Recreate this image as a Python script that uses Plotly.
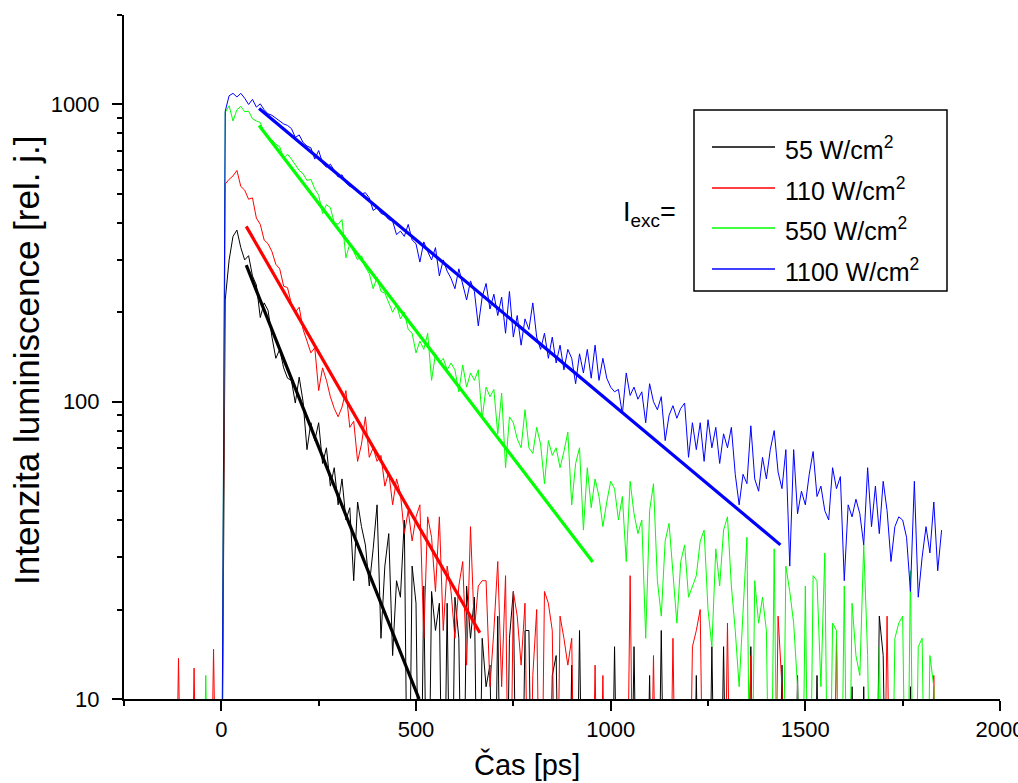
import math
import plotly.graph_objects as go

# ---------------- data ----------------
# time grid of the measured traces [ps]: -200 ... 1850, one value per 10 ps
T_START, T_STEP = -200, 10

NAMES = ["55 W/cm<sup>2</sup>", "110 W/cm<sup>2</sup>", "550 W/cm<sup>2</sup>", "1100 W/cm<sup>2</sup>"]
COLORS = ["#000000", "#ff0000", "#00ff00", "#0000ff"]

# values of 2 lie below the axis (10) and are clipped like in the original
I_55 = [
    2, 2, 2, 2, 2, 2, 2, 2, 2, 2,                 # -200
    2, 2, 2, 2, 2, 2, 2, 2, 2, 2,                 # -100
    2, 220, 300, 360, 378, 330, 300, 310, 265, 247,   # 0
    192, 215, 203, 165, 140, 150, 130, 120, 118, 99,  # 100
    121, 100, 69, 85, 74, 85, 62, 70, 52, 60,     # 200
    45, 55, 40, 44, 25, 46, 38, 33, 24, 32,       # 300
    45, 16, 28, 36, 14, 25, 22, 40, 2, 28,        # 400
    21, 2, 24, 2, 23, 17, 21, 2, 21, 2,           # 500
    22, 16, 2, 24, 16, 22, 2, 16, 11, 13,         # 600
    2, 19, 2, 2, 16, 23, 2, 2, 17, 17,            # 700
    2, 2, 2, 2, 2, 12, 14, 2, 2, 2,               # 800
    13, 2, 17, 2, 2, 2, 2, 2, 2, 2,               # 900
    2, 15, 2, 2, 2, 2, 15, 2, 2, 2,               # 1000
    12, 2, 2, 17, 2, 2, 2, 2, 2, 2,               # 1100
    2, 2, 12, 2, 2, 2, 15, 2, 2, 15,              # 1200
    2, 2, 2, 2, 2, 2, 15, 2, 2, 2,                # 1300
    2, 2, 2, 2, 13, 2, 2, 2, 12, 2,               # 1400
    2, 2, 2, 12, 2, 2, 2, 2, 2, 2,                # 1500
    2, 2, 11, 2, 2, 11, 2, 2, 2, 19,              # 1600
    14, 2, 2, 2, 2, 2, 2, 11, 2, 2,               # 1700
    2, 2, 2, 2, 2, 2,                             # 1800-1850
]

I_110 = [
    2, 2, 2, 2, 2, 2, 2, 2, 2, 13.7,              # -200
    2, 2, 2, 12.7, 2, 2, 2, 2, 14.7, 2,           # -100
    2, 540, 560, 575, 600, 530, 515, 480, 485, 415,   # 0
    395, 350, 340, 320, 290, 280, 245, 242, 213, 200, # 100
    208, 175, 160, 146, 152, 109, 130, 118, 104, 95,  # 200
    89, 96, 109, 82, 86, 63, 72, 89, 65, 70,      # 300
    63, 66, 52, 58, 45, 55, 49, 36, 43, 34,       # 400
    41, 45, 16, 41, 35, 23, 41, 17, 28, 23,       # 500
    16, 24, 29, 13, 38, 17, 24, 25, 25, 11,       # 600
    17, 29, 11, 26, 2, 23, 19, 13, 21, 2,         # 700
    12, 20, 2, 23, 21, 17, 2, 19, 16, 13,         # 800
    16, 2, 2, 2, 2, 2, 13, 2, 12, 2,              # 900
    2, 2, 2, 2, 2, 26, 2, 2, 2, 2,                # 1000
    2, 14, 2, 2, 2, 2, 16, 2, 2, 2,               # 1100
    2, 15, 17, 20, 2, 2, 2, 2, 2, 2,              # 1200
    18, 2, 2, 2, 2, 2, 14, 2, 2, 2,               # 1300
    2, 2, 2, 19, 11, 2, 2, 2, 2, 2,               # 1400
    2, 2, 2, 2, 2, 2, 2, 2, 16, 2,                # 1500
    2, 2, 2, 2, 2, 2, 2, 2, 2, 2,                 # 1600
    2, 19, 2, 2, 2, 2, 2, 2, 2, 2,                # 1700
    2, 2, 2, 12, 2, 2,                            # 1800-1850
]

I_550 = [
    2, 2, 2, 2, 2, 2, 2, 2, 2, 2,                 # -200
    2, 2, 2, 2, 2, 2, 12, 2, 2, 2,                # -100
    2, 940, 990, 880, 960, 985, 945, 950, 895, 880,   # 0
    870, 800, 780, 760, 735, 720, 660, 680, 655, 625, # 100
    600, 585, 555, 560, 520, 495, 430, 460, 450, 400, # 200
    395, 410, 305, 340, 318, 300, 310, 283, 270, 240, # 300
    262, 235, 232, 215, 200, 212, 190, 200, 175, 170, # 400
    146, 160, 150, 170, 118, 145, 135, 140, 128, 135, # 500
    128, 108, 133, 112, 125, 118, 128, 88, 112, 104,  # 600
    110, 78, 107, 60, 89, 85, 75, 70, 94, 70,     # 700
    67, 82, 72, 53, 74, 66, 70, 60, 68, 79,       # 800
    45, 62, 70, 37, 60, 44, 55, 48, 38, 46,       # 900
    54, 51, 40, 48, 29, 54, 42, 36, 40, 16,       # 1000
    43, 53, 25, 19, 34, 39, 27, 18, 29, 33,       # 1100
    22, 24, 26, 34, 37, 20, 15, 32, 24, 37,       # 1200
    41, 24, 17, 11, 20, 35, 2, 25, 18, 22,        # 1300
    17, 2, 32, 2, 2, 28, 23, 18, 11, 2,           # 1400
    24, 2, 26, 25, 11, 31, 2, 18, 17, 2,          # 1500
    24, 2, 21, 14, 12, 33, 14, 2, 2, 15,          # 1600
    2, 2, 2, 16, 18, 19, 2, 27, 2, 15,            # 1700
    16, 2, 14, 11, 2, 2,                          # 1800-1850
]

I_1100 = [
    2, 2, 2, 2, 2, 2, 2, 2, 2, 2,                 # -200
    2, 2, 2, 2, 2, 2, 2, 2, 2, 2,                 # -100
    2, 950, 1070, 1090, 1060, 1090, 1050, 1000, 1040, 980,  # 0
    1005, 960, 930, 920, 900, 880, 860, 850, 830, 775,      # 100
    790, 745, 725, 715, 655, 700, 635, 615, 630, 600, # 200
    570, 580, 545, 530, 525, 515, 500, 505, 485, 440, # 300
    450, 430, 425, 410, 405, 365, 375, 360, 395, 350, # 400
    340, 295, 345, 320, 300, 330, 265, 300, 275, 260, # 500
    240, 280, 245, 220, 255, 235, 180, 225, 250, 205, # 600
    230, 195, 225, 170, 235, 165, 195, 155, 190, 175, # 700
    215, 165, 150, 170, 140, 165, 135, 155, 128, 150, # 800
    140, 115, 145, 125, 150, 120, 155, 118, 140, 120, # 900
    112, 108, 110, 91, 125, 105, 112, 102, 108, 85,   # 1000
    115, 100, 94, 104, 74, 90, 97, 88, 95, 99,    # 1100
    65, 85, 69, 85, 63, 87, 70, 82, 62, 78,       # 1200
    70, 82, 57, 45, 57, 53, 83, 55, 50, 65,       # 1300
    55, 69, 80, 58, 51, 69, 28, 69, 42, 50,       # 1400
    45, 57, 68, 48, 52, 43, 40, 60, 51, 56,       # 1500
    25, 45, 41, 47, 42, 33, 60, 38, 52, 36,       # 1600
    54, 43, 29, 38, 41, 40, 35, 23, 54, 22,       # 1700
    30, 38, 31, 46, 27, 37,                       # 1800-1850
]

SERIES = [I_55, I_110, I_550, I_1100]

# mono-exponential fits: start/end time [ps] and start/end intensity
FIT_T0 = [64, 64, 97, 97]
FIT_T1 = [508, 664, 954, 1436]
FIT_V0 = [288, 389, 850, 970]
FIT_V1 = [10, 16.7, 28.9, 33]

X_TICKS = [0, 500, 1000, 1500, 2000]
X_MINOR = [-250, 250, 750, 1250, 1750]
Y_TICKS = [10, 100, 1000]
Y_MINOR = [20, 30, 40, 50, 60, 70, 80, 90, 200, 300, 400, 500, 600, 700, 800, 900, 2000]
X_RANGE = [-250, 2000]
Y_RANGE = [10, 2000]

X_TITLE = "Čas [ps]"
Y_TITLE = "Intenzita luminiscence [rel. j.]"
LEG_TITLE = "I<sub>exc</sub>="

# ---------------- figure ----------------
W, H = 1018, 783
L, R, T, B = 124, 18, 15, 84
FONT = "Liberation Sans, Arial, sans-serif"


def px(x):
    return (x - L) / (W - L - R)


def py(y):
    return (H - B - y) / (H - T - B)


fig = go.Figure()
for vals, name, col in zip(SERIES, NAMES, COLORS):
    t = [T_START + i * T_STEP for i in range(len(vals))]
    fig.add_trace(go.Scatter(x=t, y=vals, mode="lines", name=name,
                             line=dict(color=col, width=1), showlegend=False))

for t0, t1, v0, v1, col in zip(FIT_T0, FIT_T1, FIT_V0, FIT_V1, COLORS):
    fig.add_trace(go.Scatter(x=[t0, t1], y=[v0, v1], mode="lines",
                             line=dict(color=col, width=3.2), showlegend=False))

axis_common = dict(showline=True, linecolor="black", linewidth=2, mirror=False,
                   showgrid=False, zeroline=False, ticks="outside", ticklen=10,
                   tickwidth=2, tickcolor="black", ticklabeloverflow="allow",
                   tickfont=dict(family=FONT, size=22, color="black"),
                   automargin=False)

fig.update_xaxes(range=X_RANGE, tickmode="array", tickvals=X_TICKS,
                 ticktext=[str(v) for v in X_TICKS],
                 minor=dict(tickmode="array", tickvals=X_MINOR, ticks="outside",
                            ticklen=5, tickwidth=2, tickcolor="black"),
                 **axis_common)
fig.update_yaxes(type="log", range=[math.log10(Y_RANGE[0]), math.log10(Y_RANGE[1])],
                 tickmode="array", tickvals=Y_TICKS, ticktext=[str(v) for v in Y_TICKS],
                 ticklabelstandoff=8,
                 minor=dict(tickmode="array", tickvals=Y_MINOR, ticks="outside",
                            ticklen=5, tickwidth=2, tickcolor="black"),
                 **axis_common)

shapes = []
annotations = []
# legend box
shapes.append(dict(type="rect", xref="paper", yref="paper",
                   x0=px(694), x1=px(947), y0=py(291), y1=py(110),
                   line=dict(color="black", width=1.5), fillcolor="white", layer="above"))
rows = [147, 188, 228, 269]
for ry, name, col in zip(rows, NAMES, COLORS):
    shapes.append(dict(type="line", xref="paper", yref="paper",
                       x0=px(712), x1=px(775), y0=py(ry), y1=py(ry),
                       line=dict(color=col, width=1.5), layer="above"))
    annotations.append(dict(xref="paper", yref="paper", x=px(783), y=py(ry + 1),
                            text=name, showarrow=False, xanchor="left", yanchor="middle",
                            font=dict(family=FONT, size=25, color="black")))
annotations.append(dict(xref="paper", yref="paper", x=px(649), y=py(214),
                        text=LEG_TITLE, showarrow=False, xanchor="center", yanchor="middle",
                        font=dict(family=FONT, size=27, color="black")))
annotations.append(dict(xref="paper", yref="paper", x=px(527), y=py(764),
                        text=X_TITLE, showarrow=False, xanchor="center", yanchor="middle",
                        font=dict(family=FONT, size=29, color="black")))
annotations.append(dict(xref="paper", yref="paper", x=px(27), y=py(361),
                        text=Y_TITLE, showarrow=False, textangle=-90,
                        xanchor="center", yanchor="middle",
                        font=dict(family=FONT, size=35, color="black")))

fig.update_layout(width=W, height=H, margin=dict(l=L, r=R, t=T, b=B, pad=0),
                  paper_bgcolor="white", plot_bgcolor="white",
                  shapes=shapes, annotations=annotations, showlegend=False,
                  font=dict(family=FONT, color="black"))

# remove the browser's default 8px body margin so the figure sits at the page origin
fig.write_html("out.html", config={"displayModeBar": False},
               post_script="document.body.style.margin='0px';document.body.style.overflow='hidden';")
